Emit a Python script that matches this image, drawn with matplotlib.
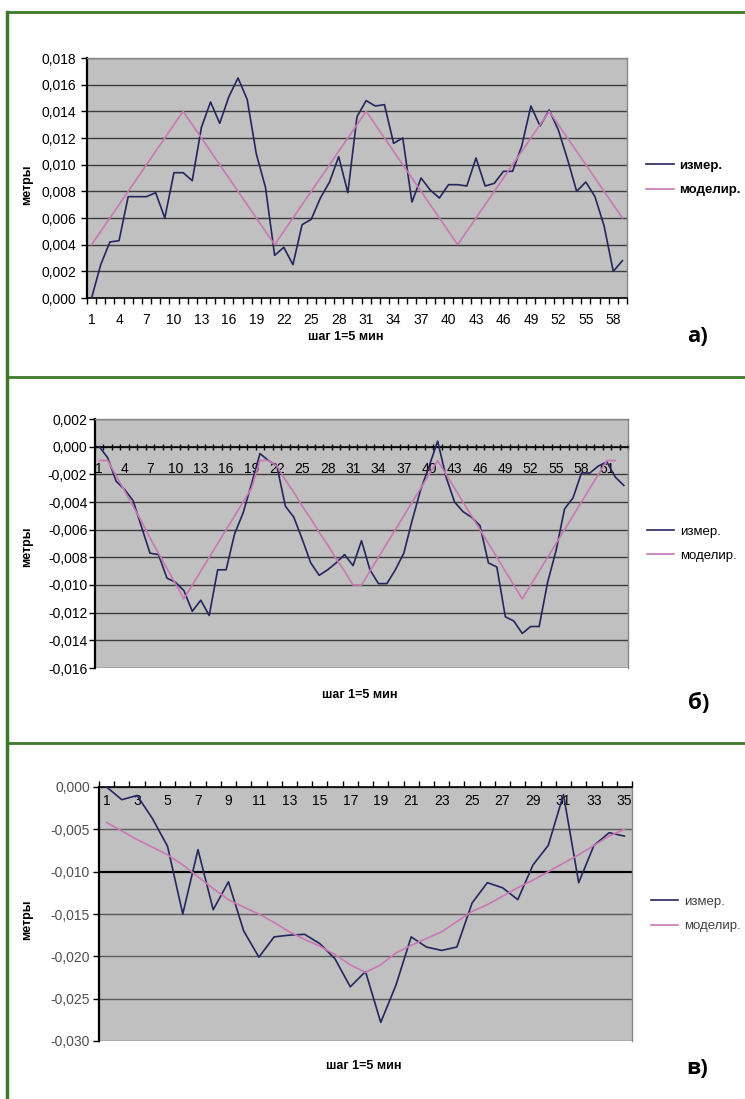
import matplotlib
matplotlib.use("Agg")
import matplotlib.pyplot as plt
from matplotlib.lines import Line2D
from matplotlib.ticker import FuncFormatter
import numpy as np

plt.rcParams['font.family'] = ['Liberation Sans', 'DejaVu Sans']

# panel a) - measured and model, metres, step 1 = 5 min
a_meas = [0.0000, 0.0025, 0.0042, 0.0043, 0.0076, 0.0076, 0.0076, 0.0079, 0.0060, 0.0094,
          0.0094, 0.0088, 0.0128, 0.0147, 0.0131, 0.0151, 0.0165, 0.0149, 0.0108, 0.0083,
          0.0032, 0.0038, 0.0025, 0.0055, 0.0059, 0.0075, 0.0087, 0.0106, 0.0079, 0.0136,
          0.0148, 0.0144, 0.0145, 0.0116, 0.0120, 0.0072, 0.0090, 0.0081, 0.0075, 0.0085,
          0.0085, 0.0084, 0.0105, 0.0084, 0.0086, 0.0095, 0.0095, 0.0114, 0.0144, 0.0129,
          0.0141, 0.0126, 0.0104, 0.0080, 0.0087, 0.0076, 0.0054, 0.0020, 0.0028]
a_model = [0.004, 0.005, 0.006, 0.007, 0.008, 0.009, 0.010, 0.011, 0.012, 0.013,
           0.014, 0.013, 0.012, 0.011, 0.010, 0.009, 0.008, 0.007, 0.006, 0.005,
           0.004, 0.005, 0.006, 0.007, 0.008, 0.009, 0.010, 0.011, 0.012, 0.013,
           0.014, 0.013, 0.012, 0.011, 0.010, 0.009, 0.008, 0.007, 0.006, 0.005,
           0.004, 0.005, 0.006, 0.007, 0.008, 0.009, 0.010, 0.011, 0.012, 0.013,
           0.014, 0.013, 0.012, 0.011, 0.010, 0.009, 0.008, 0.007, 0.006]

# panel б)
b_meas = [0.0000, -0.0008, -0.0025, -0.0031, -0.0039, -0.0058, -0.0077, -0.0078, -0.0095, -0.0098,
          -0.0104, -0.0119, -0.0111, -0.0122, -0.0089, -0.0089, -0.0063, -0.0048, -0.0027, -0.0005,
          -0.0010, -0.0014, -0.0043, -0.0051, -0.0067, -0.0084, -0.0093, -0.0089, -0.0084, -0.0078,
          -0.0086, -0.0068, -0.0089, -0.0099, -0.0099, -0.0089, -0.0077, -0.0053, -0.0031, -0.0014,
          0.0004, -0.0022, -0.0040, -0.0047, -0.0051, -0.0057, -0.0084, -0.0087, -0.0123, -0.0126,
          -0.0135, -0.0130, -0.0130, -0.0098, -0.0075, -0.0045, -0.0037, -0.0019, -0.0019, -0.0014,
          -0.0011, -0.0022, -0.0028]
b_model = [-0.0010, -0.0010, -0.0021, -0.0032, -0.0043, -0.0054, -0.0066, -0.0077, -0.0088, -0.0099,
           -0.0110, -0.0100, -0.0090, -0.0080, -0.0070, -0.0060, -0.0050, -0.0040, -0.0030, -0.0010,
           -0.0010, -0.0014, -0.0024, -0.0033, -0.0043, -0.0052, -0.0062, -0.0071, -0.0081, -0.0090,
           -0.0100, -0.0100, -0.0090, -0.0080, -0.0070, -0.0060, -0.0050, -0.0040, -0.0030, -0.0020,
           -0.0010, -0.0020, -0.0030, -0.0040, -0.0050, -0.0060, -0.0070, -0.0080, -0.0090, -0.0100,
           -0.0110, -0.0100, -0.0090, -0.0080, -0.0070, -0.0060, -0.0050, -0.0040, -0.0030, -0.0020,
           -0.0010, -0.0010]

# panel в)
c_meas = [0.0000, -0.0015, -0.0010, -0.0037, -0.0070, -0.0150, -0.0074, -0.0145, -0.0112, -0.0170,
          -0.0201, -0.0177, -0.0175, -0.0174, -0.0185, -0.0203, -0.0236, -0.0218, -0.0278, -0.0234,
          -0.0177, -0.0189, -0.0193, -0.0189, -0.0137, -0.0113, -0.0119, -0.0133, -0.0092, -0.0069,
          -0.0009, -0.0113, -0.0069, -0.0054, -0.0058]
c_model = [-0.0042, -0.0052, -0.0062, -0.0071, -0.0080, -0.0092, -0.0106, -0.0120, -0.0133, -0.0142,
           -0.0150, -0.0160, -0.0171, -0.0180, -0.0188, -0.0198, -0.0210, -0.0219, -0.0210, -0.0196,
           -0.0187, -0.0179, -0.0171, -0.0159, -0.0147, -0.0139, -0.0129, -0.0119, -0.0110, -0.0100,
           -0.0090, -0.0080, -0.0069, -0.0058, -0.0050]

series_names = ['измер.', 'моделир.']
x_title = 'шаг 1=5 мин'
y_title = 'метры'

NAVY = '#25255f'
PINK = '#c878b4'
GREEN = '#3d7a2c'
PLOT_BG = '#c0c0c0'
W, H = 745, 1099


def comma(v, pos):
    s = f"{v:.3f}".replace('.', ',')
    if s == '-0,000':
        s = '0,000'
    return s


def frac(px_left, px_top, px_right, px_bottom):
    return [px_left / W, 1 - px_bottom / H, (px_right - px_left) / W, (px_bottom - px_top) / H]


def make_panel(fig, rect, meas, model, ylim, nticks, every, at_zero, xdir, xpad, ypad,
               ycolor='black', legend_bold=False, legend_color='black', grid_color='#3c3c3c'):
    ax = fig.add_axes(rect)
    ax.set_facecolor(PLOT_BG)
    n = len(meas)
    ax.plot(np.arange(1, len(meas) + 1), meas, color=NAVY, lw=1.2, label=series_names[0], zorder=3)
    ax.plot(np.arange(1, len(model) + 1), model, color=PINK, lw=1.2, label=series_names[1], zorder=3)
    ax.set_xlim(0.5, n + 0.5)
    ax.set_ylim(*ylim)

    ax.set_yticks(np.linspace(ylim[0], ylim[1], nticks))
    ax.yaxis.set_major_formatter(FuncFormatter(comma))
    ax.yaxis.grid(True, color=grid_color, lw=1.0)
    ax.set_axisbelow(True)
    ax.tick_params(axis='y', length=4, width=1, direction='out', pad=ypad,
                   labelsize=10, labelcolor=ycolor)

    labels = np.arange(1, n + 1, every)
    ax.set_xticks(labels)
    ax.set_xticklabels([str(v) for v in labels])
    ax.set_xticks(np.arange(0.5, n + 1), minor=True)
    ax.tick_params(axis='x', which='major', length=0, pad=xpad, labelsize=10)
    ax.tick_params(axis='x', which='minor', length=4, width=1, direction=xdir)

    for side in ['top', 'right']:
        ax.spines[side].set_color('#888888')
        ax.spines[side].set_linewidth(1.0)
    ax.spines['left'].set_color('black')
    ax.spines['left'].set_linewidth(1.6)
    ax.spines['bottom'].set_color('black')
    ax.spines['bottom'].set_linewidth(1.2)
    if at_zero:
        ax.spines['bottom'].set_position(('data', 0))

    leg = ax.legend(loc='center left', bbox_to_anchor=(1.035, 0.5), frameon=False,
                    fontsize=9.5, handlelength=2.1, handletextpad=0.4, labelspacing=0.9,
                    borderaxespad=0, borderpad=0)
    for t in leg.get_texts():
        t.set_color(legend_color)
        if legend_bold:
            t.set_fontweight('bold')
    return ax


fig = plt.figure(figsize=(W / 100, H / 100), dpi=100)

ax_a = make_panel(fig, frac(87, 58, 627, 298), a_meas, a_model, (0.0, 0.018), 10, 3,
                  False, 'out', 11, 4, legend_bold=True)
ax_b = make_panel(fig, frac(95, 419, 628, 668), b_meas, b_model, (-0.016, 0.002), 10, 3,
                  True, 'inout', 11, 1.5)
ax_c = make_panel(fig, frac(99, 787, 632, 1041), c_meas, c_model, (-0.030, 0.0), 7, 2,
                  True, 'in', 5, 2.5, ycolor='#505050', legend_color='#404040',
                  grid_color='#5a5a5a')
ax_c.spines['top'].set_visible(False)
# the -0,010 gridline is drawn darker in the original
for gl, v in zip(ax_c.yaxis.get_gridlines(), ax_c.get_yticks()):
    if abs(v + 0.010) < 1e-9:
        gl.set_color('black')
        gl.set_linewidth(1.6)

# axis titles
for ax, ylab_y, xlab_x, xlab_y in [(ax_a, 185, 346, 337), (ax_b, 547, 360, 695), (ax_c, 920, 364, 1066)]:
    fig.text(27 / W, 1 - ylab_y / H, y_title, rotation=90, ha='center', va='center',
             fontsize=9, fontweight='bold')
    fig.text(xlab_x / W, 1 - xlab_y / H, x_title, ha='center', va='center',
             fontsize=9, fontweight='bold')

# panel letters
for letter, lx, ly in [('а)', 697, 337), ('б)', 699, 703), ('в)', 697, 1068)]:
    fig.text(lx / W, 1 - ly / H, letter, ha='center', va='center', fontsize=16,
             fontweight='bold', family=['Open Sans', 'DejaVu Sans'])

# green frame lines
for y in [12, 377, 743]:
    fig.add_artist(Line2D([7 / W, 1], [1 - y / H, 1 - y / H], color=GREEN, lw=2.0,
                          transform=fig.transFigure))
fig.add_artist(Line2D([7 / W, 7 / W], [1 - 12 / H, 0], color=GREEN, lw=2.5,
                      transform=fig.transFigure))

fig.savefig('out.png', dpi=100)
